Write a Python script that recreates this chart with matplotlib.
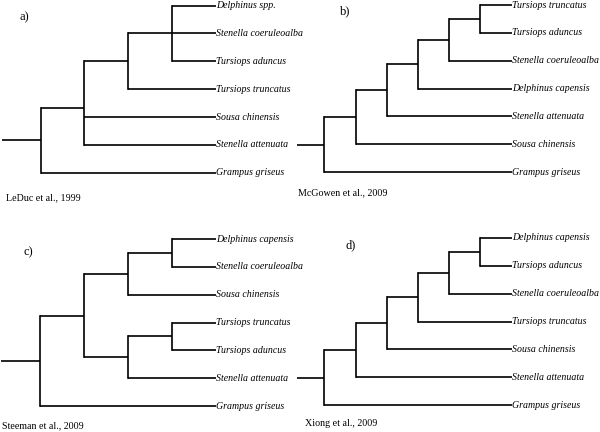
import numpy as np
import matplotlib
matplotlib.use("Agg")
import matplotlib.pyplot as plt

# tree topologies (nested lists of species), one per study
tree_a = [[[["Delphinus spp.", "Stenella coeruleoalba", "Tursiops aduncus"],
            "Tursiops truncatus"],
           "Sousa chinensis", "Stenella attenuata"],
          "Grampus griseus"]
tree_b = [[[[[["Tursiops truncatus", "Tursiops aduncus"],
              "Stenella coeruleoalba"],
             "Delphinus capensis"],
            "Stenella attenuata"],
           "Sousa chinensis"],
          "Grampus griseus"]
tree_c = [[[["Delphinus capensis", "Stenella coeruleoalba"], "Sousa chinensis"],
           [["Tursiops truncatus", "Tursiops aduncus"], "Stenella attenuata"]],
          "Grampus griseus"]
tree_d = [[[[[["Delphinus capensis", "Tursiops aduncus"],
              "Stenella coeruleoalba"],
             "Tursiops truncatus"],
            "Sousa chinensis"],
           "Stenella attenuata"],
          "Grampus griseus"]

panel_letters = ["a)", "b)", "c)", "d)"]
citations = ["LeDuc et al., 1999", "McGowen et al., 2009",
             "Steeman et al., 2009", "Xiong et al., 2009"]

# layout (pixels): root node x, leaf tip x, top leaf y, letter pos, citation pos
layout = [
    dict(root_x=40.7, leaf_x=215.5, top=5.6, letter=(20, 17), cite=(6.5, 198)),
    dict(root_x=324.3, leaf_x=511.7, top=5.0, letter=(340, 11), cite=(298, 193)),
    dict(root_x=39.7, leaf_x=215.5, top=239.0, letter=(23, 252), cite=(1.5, 426)),
    dict(root_x=324.3, leaf_x=511.7, top=238.0, letter=(345, 245), cite=(305, 424)),
]
leaf_gap = 27.85
lw = 1.2
lab_font = dict(family="Liberation Serif", style="italic", size=7.1)
txt_font = dict(family="Liberation Serif", size=7.2)


def n_levels(node):
    if isinstance(node, str):
        return 0
    return 1 + max(n_levels(c) for c in node)


def draw_tree(ax, tree, lay):
    levels = n_levels(tree)
    step = (lay["leaf_x"] - lay["root_x"]) / levels
    counter = [0]

    def rec(node, depth):
        if isinstance(node, str):
            y = lay["top"] + counter[0] * leaf_gap
            counter[0] += 1
            ax.text(lay["leaf_x"] + 0.8, y, node, va="center", ha="left", **lab_font)
            return lay["leaf_x"], y
        x = lay["root_x"] + depth * step
        kids = [rec(c, depth + 1) for c in node]
        ys = [k[1] for k in kids]
        for kx, ky in kids:
            ax.plot([x, kx], [ky, ky], color="black", lw=lw, solid_capstyle="butt")
        ax.plot([x, x], [min(ys), max(ys)], color="black", lw=lw, solid_capstyle="projecting")
        return x, np.mean(ys)

    rx, ry = rec(tree, 0)
    ax.plot([rx - 0.88 * step, rx], [ry, ry], color="black", lw=lw, solid_capstyle="butt")


fig = plt.figure(figsize=(6, 4.32), dpi=100)
ax = fig.add_axes([0, 0, 1, 1])
ax.set_xlim(0, 600)
ax.set_ylim(432, 0)
ax.axis("off")

for tree, lay, let, cit in zip([tree_a, tree_b, tree_c, tree_d], layout,
                               panel_letters, citations):
    draw_tree(ax, tree, lay)
    ax.text(*lay["letter"], let, va="center", ha="left",
            family="Liberation Serif", size=9)
    ax.text(*lay["cite"], cit, va="center", ha="left", **txt_font)

fig.savefig("out.png", dpi=100, facecolor="white")
